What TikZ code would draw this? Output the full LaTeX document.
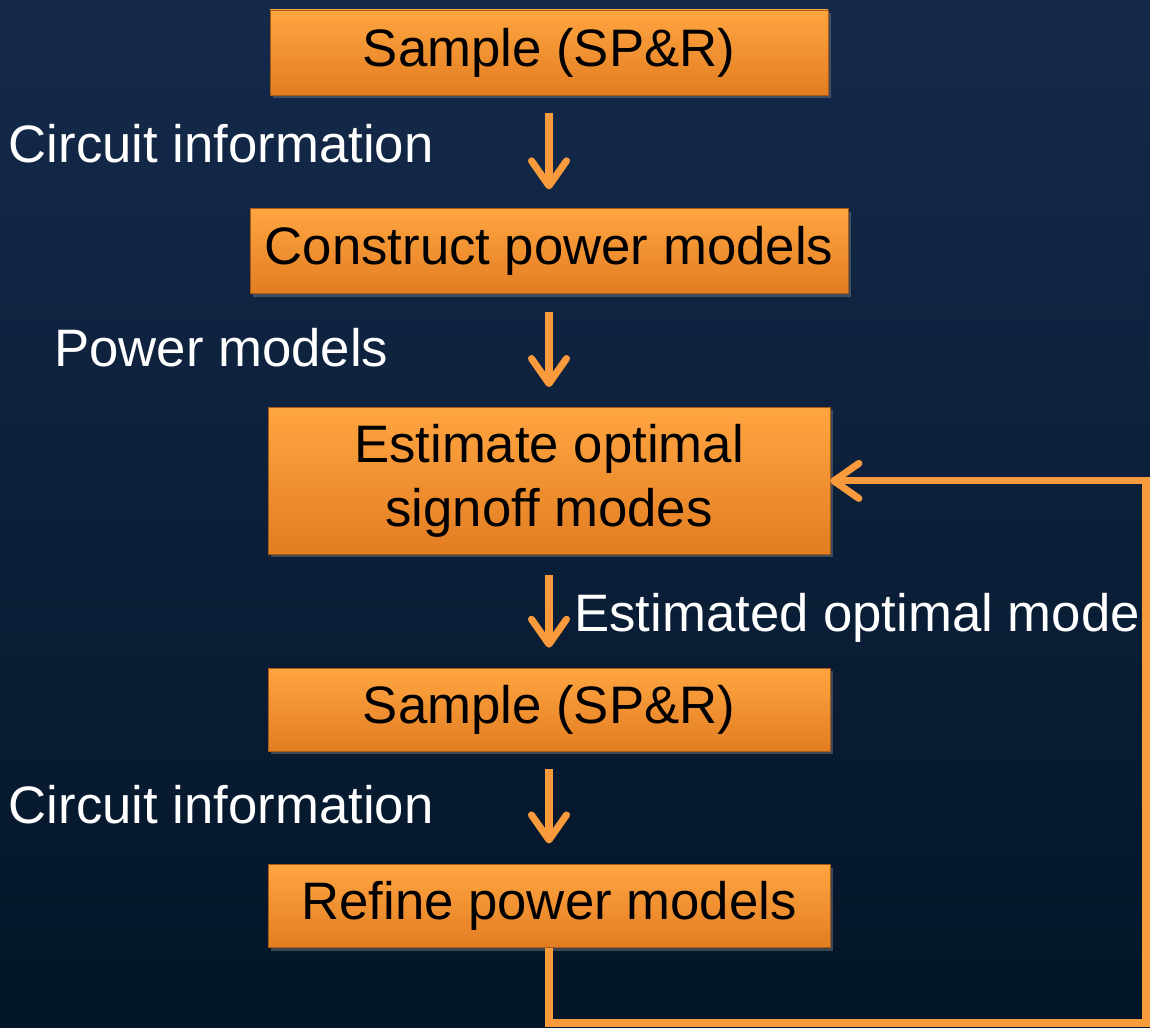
\documentclass[tikz,border=0pt]{standalone}
\usepackage{fontspec}
\setmainfont{Liberation Sans}
\usepackage{tikz}
\usetikzlibrary{positioning}
\usetikzlibrary{arrows.meta,shadows}

\definecolor{bgtop}{HTML}{152A4B}
\definecolor{bgmid}{HTML}{1A3862}
\definecolor{bgbot}{HTML}{031528}
\definecolor{boxtop}{HTML}{FFA540}
\definecolor{boxbot}{HTML}{E27D22}
\definecolor{boxedge}{HTML}{A85A18}
\definecolor{arrowor}{HTML}{F99A3C}

\begin{document}
\begin{tikzpicture}[
    procbox/.style={draw=boxedge, thin, top color=boxtop, bottom color=boxbot,
    drop shadow={opacity=0.45, shadow xshift=0.06cm, shadow yshift=-0.06cm},
    minimum width=11.24cm, minimum height=1.66cm, align=center,
    font=\fontsize{30}{36}\selectfont, text=black},
    flowlabel/.style={anchor=base west, inner sep=0pt, text=white,
    font=\fontsize{30}{36}\selectfont},
    flowarrow/.style={draw=arrowor, line width=4pt,
    -{Straight Barb[length=0.5cm, width=0.7cm, round]}},
    node distance=2.26cm,
    ]

    \useasboundingbox (0,0) rectangle (23,-20.56);
    \fill[top color=bgtop, middle color=bgmid, bottom color=bgbot] (0,0) rectangle (23,-20.56);

    \node[procbox, minimum width=11.16cm, minimum height=1.7cm] (samp1) at (10.98,-1.05) {Sample (SP\&R)};
    \node[procbox, minimum width=11.96cm, minimum height=1.7cm, below=of samp1] (cpm) {Construct power models};
    \node[procbox, minimum height=2.94cm, below=of cpm] (est) {Estimate optimal\\signoff modes};
    \node[procbox, below=of est] (samp2) {Sample (SP\&R)};
    \node[procbox, below=of samp2] (rpm) {Refine power models};

    \node[flowlabel] (ci1) at (0.17,-3.26) {Circuit information};
    \node[flowlabel] (pm) at (1.08,-7.34) {Power models};
    \node[flowlabel] (eom) at (11.48,-12.62) {Estimated optimal mode};
    \node[flowlabel] (ci2) at (0.17,-16.46) {Circuit information};

    \draw[flowarrow, shorten <=0.36cm, shorten >=0.38cm] (samp1.south) -- (cpm.north);
    \draw[flowarrow, shorten <=0.36cm, shorten >=0.4cm] (cpm.south) -- (est.north);
    \draw[flowarrow, shorten <=0.4cm, shorten >=0.4cm] (est.south) -- (samp2.north);
    \draw[flowarrow, shorten <=0.36cm, shorten >=0.42cm] (samp2.south) -- (rpm.north);

    % feedback loop
    \coordinate (loopbr) at (22.92,-20.46);
    \draw[flowarrow, line join=miter] (rpm.south) |- (loopbr) |- (est.east);
\end{tikzpicture}
\end{document}
